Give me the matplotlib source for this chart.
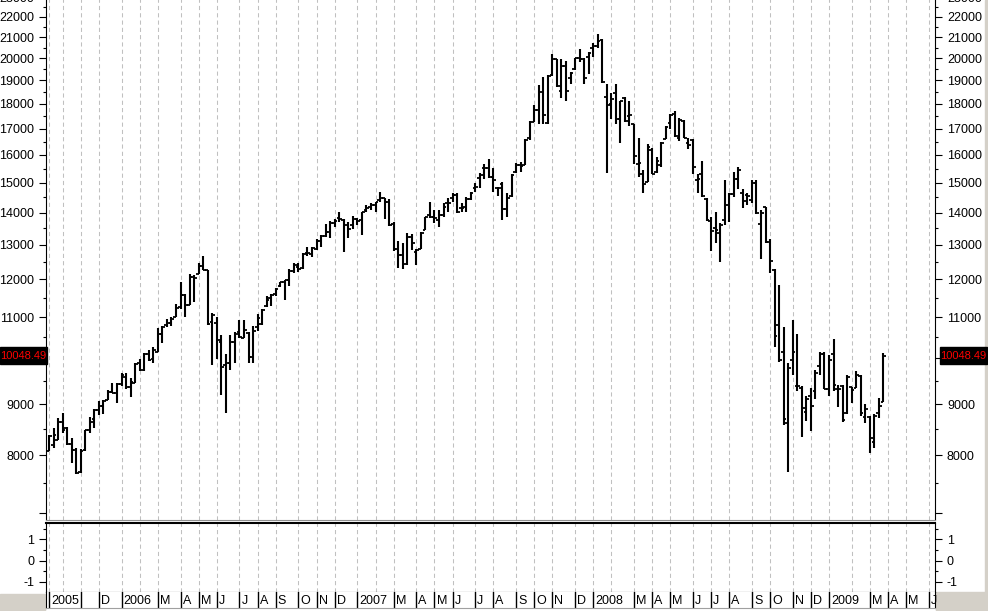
import numpy as np
import pandas as pd
import matplotlib
matplotlib.use('Agg')
import matplotlib.pyplot as plt
from matplotlib.patches import Rectangle
from matplotlib.ticker import FixedLocator, NullFormatter

# weekly bars, first week ending 2005-09-16
start_week = '2005-09-16'

opens = [
    8079, 8185, 8280, 8637, 8506, 8204, 8091, 7695, 8085, 8473,
    8684, 8873, 8955, 9085, 9260, 9233, 9423, 9585, 9364, 9452,
    9883, 9731, 10099, 9975, 10153, 10591, 10802, 10843, 11008, 11250,
    11580, 11310, 12080, 12155, 12387, 12261, 10884, 10843, 10389, 9845,
    9883, 10389, 10632, 10472, 10607, 10037, 10761, 10827, 11280, 11507,
    11616, 11813, 11934, 11980, 12241, 12355, 12308, 12741, 12721, 12860,
    13120, 13262, 13394, 13675, 13818, 13765, 13607, 13607, 13797, 13765,
    14087, 14196, 14250, 14415, 14470, 14360, 13628, 12872, 12696, 12439,
    13246, 12794, 12872, 13451, 13925, 13872, 13765, 13925, 14305, 14470,
    14584, 14141, 14196, 14448, 14832, 15158, 15510, 15510, 15215, 14832,
    14946, 14119, 14561, 15391, 15630, 15630, 16622, 17275, 17747, 18514,
    17208, 19241, 19965, 18557, 19659, 19119, 19506, 19996, 19965, 20073,
    20488, 20583, 20861, 18271, 17995, 18474, 17370, 18232, 17504, 17184,
    15666, 15307, 15041, 16183, 15392, 15629, 16586, 17210, 17585, 16624,
    17316, 16432, 16560, 15098, 15307, 14439, 13744, 13503, 13347, 13766,
    14250, 14618, 15122, 14662, 14584, 14417, 14983, 13640, 14175, 13096,
    12265, 10803, 10156, 8608, 9963, 9383, 9332, 8843, 9167, 9283,
    9825, 10103, 9310, 10103, 9310, 9383, 8810, 9353, 9332, 9602,
    8740, 8740, 8251, 8810, 9050,
]
highs = [
    8376, 8506, 8704, 8819, 8539, 8312, 8122, 8103, 8473, 8724,
    8893, 9067, 9081, 9294, 9437, 9437, 9659, 9674, 9548, 9883,
    9983, 10130, 10192, 10271, 10720, 10778, 10941, 10992, 11350, 11930,
    11600, 12150, 12130, 12450, 12660, 12277, 11110, 10992, 10550, 10099,
    10550, 10632, 10925, 10925, 10632, 10778, 11076, 11220, 11554, 11616,
    11777, 11934, 11998, 12280, 12469, 12469, 12741, 12939, 12939, 13160,
    13292, 13654, 13737, 13811, 14012, 13786, 13712, 13904, 13818, 14032,
    14250, 14305, 14360, 14674, 14493, 14448, 13691, 13113, 13043, 13348,
    13317, 12863, 13379, 13872, 14338, 14087, 14087, 14305, 14470, 14640,
    14640, 14305, 14527, 14674, 14984, 15332, 15654, 15848, 15534, 14866,
    15015, 14640, 15297, 15715, 15727, 16597, 17301, 17950, 18800, 19167,
    19241, 20182, 19965, 19965, 19873, 19356, 20027, 20430, 19996, 20306,
    20698, 21132, 20909, 18845, 18474, 18847, 18134, 18275, 18120, 17184,
    16648, 15451, 16406, 16245, 15935, 16497, 17105, 17585, 17720, 17410,
    17342, 16624, 16598, 15307, 15777, 14473, 13851, 14033, 13680, 15098,
    14641, 15392, 15570, 14776, 14641, 15098, 15098, 14088, 14197, 13166,
    12284, 11846, 10762, 9884, 10929, 10578, 9383, 9167, 9332, 9735,
    10156, 10156, 10079, 10450, 9404, 9404, 9624, 9368, 9720, 9624,
    9001, 8755, 8796, 9118, 10134,
]
lows = [
    8079, 8122, 8280, 8421, 8185, 7845, 7665, 7677, 8072, 8421,
    8519, 8771, 8785, 9081, 9233, 9025, 9379, 9328, 9152, 9437,
    9716, 9716, 9936, 9898, 10153, 10367, 10745, 10778, 10992, 11200,
    11010, 11300, 11380, 12139, 12261, 10802, 9845, 9997, 9187, 8805,
    9746, 9898, 10472, 10472, 9883, 9883, 10657, 10802, 11263, 11280,
    11545, 11795, 11456, 11813, 12168, 12205, 12280, 12660, 12641, 12840,
    12939, 13242, 13191, 13547, 13712, 12794, 13195, 13482, 13607, 13300,
    14032, 14087, 14032, 14360, 13797, 13576, 12813, 12325, 12306, 12420,
    12843, 12420, 12872, 13451, 13840, 13660, 13555, 13872, 14032, 14360,
    13979, 14032, 14032, 14415, 14674, 14832, 15135, 15158, 14696, 14561,
    13765, 13872, 14527, 15332, 15391, 15630, 16559, 17248, 17168, 17168,
    17168, 19211, 18700, 18226, 18128, 18845, 19461, 19813, 18845, 19268,
    20073, 20488, 18890, 15332, 17370, 17184, 16458, 17276, 17118, 15666,
    15216, 14662, 15041, 15307, 15333, 15570, 16586, 16973, 16661, 16535,
    16624, 16206, 15307, 14641, 14526, 13744, 12824, 13044, 12504, 13608,
    13715, 14526, 14776, 14142, 14250, 14306, 13958, 12573, 13066, 12171,
    10275, 9925, 8574, 7699, 9624, 9283, 8335, 8661, 8463, 9097,
    9624, 9310, 9167, 9283, 8945, 8640, 8796, 9029, 9332, 8755,
    8621, 8044, 8125, 8708, 9050,
]
closes = [
    8360, 8376, 8637, 8473, 8204, 8091, 7677, 8079, 8473, 8637,
    8873, 8955, 9067, 9258, 9240, 9423, 9622, 9364, 9474, 9868,
    9731, 10099, 9959, 10192, 10591, 10761, 10860, 10941, 11246, 11580,
    11310, 12080, 12050, 12387, 12277, 10827, 11050, 10430, 9807, 9883,
    10389, 10591, 10510, 10673, 10037, 10657, 10967, 11194, 11456, 11571,
    11741, 11925, 11980, 12241, 12402, 12280, 12721, 12741, 12889, 13120,
    13262, 13394, 13675, 13737, 13800, 13607, 13482, 13797, 13740, 14012,
    14163, 14250, 14350, 14470, 14338, 13607, 12872, 12696, 12439, 13246,
    13043, 12843, 13348, 13872, 13872, 13818, 13925, 14196, 14305, 14584,
    14032, 14163, 14448, 14640, 14866, 15273, 15510, 15215, 15100, 14832,
    14119, 14470, 15273, 15630, 15606, 16559, 17275, 17747, 18514, 17543,
    19211, 19965, 18772, 19659, 18557, 19311, 19996, 19965, 19119, 20228,
    20583, 20813, 18919, 17941, 18189, 17370, 18120, 17316, 17545, 15958,
    15715, 14959, 16306, 15307, 15777, 16458, 17077, 17545, 16714, 17342,
    16624, 16368, 15570, 15122, 14550, 13766, 13431, 13449, 13608, 14250,
    14618, 15122, 15451, 14396, 14550, 14983, 14000, 14000, 13096, 12532,
    10531, 9963, 8687, 9774, 10156, 9383, 8911, 9097, 8958, 9661,
    10103, 9310, 9963, 9404, 9310, 8674, 9588, 9297, 9624, 8822,
    8890, 8313, 8755, 8958, 10048.49,
]
last_label = '10048.49'

month_letters = 'JFMAMJJASOND'
ytick_major = list(range(7000, 23001, 1000))
ytick_minor = list(range(7500, 23000, 1000))
hidden_labels = [7000, 10000]
sub_major = [-1, 0, 1]
sub_minor = [-1.5, -0.5, 0.5, 1.5]

plt.rcParams['font.family'] = ['Liberation Sans', 'DejaVu Sans']
FS = 9

W, H = 988, 611
fig = plt.figure(figsize=(W / 100, H / 100), dpi=100)


def rect(x0, y0, x1, y1):
    return [x0 / W, 1 - y1 / H, (x1 - x0) / W, (y1 - y0) / H]


ax = fig.add_axes(rect(46, -4, 935, 520))
ax2 = fig.add_axes(rect(46, 522.5, 935, 592))
axd = fig.add_axes(rect(46, 592, 935, 608))

n = len(closes)
dates = pd.date_range(start_week, periods=196, freq='W-FRI')
month_start = [i for i in range(1, len(dates)) if dates[i].month != dates[i - 1].month]
grid_idx = [0] + month_start
xlim = (-0.66, 195.37)

grid_style = dict(color='#c0c0c0', lw=0.75, ls=(0, (4, 3)), zorder=0)
for a in (ax, ax2):
    for g in grid_idx:
        a.axvline(g, **grid_style)
    a.set_xlim(*xlim)
    a.set_xticks([])
    a.spines['top'].set_visible(False)
    for s in a.spines.values():
        s.set_color('black')
ax.spines['bottom'].set_color('#909090')
ax.spines['bottom'].set_linewidth(0.8)

# OHLC bars
x = np.arange(n)
ax.vlines(x, lows, highs, color='black', lw=1.5)
ax.hlines(opens, x - 0.6, x, color='black', lw=1.3)
ax.hlines(closes, x, x + 0.6, color='black', lw=1.3)

ax.set_yscale('log')
ax.set_ylim(6885, 23091)
ax.yaxis.set_major_locator(FixedLocator(ytick_major))
ax.yaxis.set_minor_locator(FixedLocator(ytick_minor))
ax.set_yticklabels(['' if v in hidden_labels else str(v) for v in ytick_major])
ax.yaxis.set_minor_formatter(NullFormatter())

ax2.set_ylim(-1.49, 1.8)
ax2.yaxis.set_major_locator(FixedLocator(sub_major))
ax2.yaxis.set_minor_locator(FixedLocator(sub_minor))
ax2.set_yticklabels([str(v) for v in sub_major])
ax2.spines['top'].set_visible(True)
ax2.spines['top'].set_linewidth(1.5)

for a in (ax, ax2):
    a.tick_params(axis='y', which='both', left=True, right=True,
                  labelleft=True, labelright=True, direction='out',
                  labelsize=FS, colors='black')
    a.tick_params(axis='y', which='major', length=5, width=0.8, pad=3.6)
    a.tick_params(axis='y', which='minor', length=2.4, width=0.8)

# date strip
axd.set_xlim(*xlim)
axd.set_ylim(0, 1)
axd.set_xticks([])
axd.set_yticks([])
for s in axd.spines.values():
    s.set_color('black')
axd.spines['top'].set_visible(False)
axd.spines['bottom'].set_color('#a0a0a0')

strip = [(0, str(dates[0].year))]
for i in month_start:
    d = dates[i]
    if d.month == 2 or (d.year == 2005 and d.month == 10):
        continue
    if d.year == 2005 and d.month == 11:
        lab = ''
    elif d.month == 1:
        lab = str(d.year)
    else:
        lab = month_letters[d.month - 1]
    strip.append((i, lab))

for i, lab in strip:
    axd.axvline(i, color='black', lw=1)
    axd.text(i + 0.45, 0.45, lab, fontsize=FS, va='center', ha='left')

# last value boxes
for x0 in (0, 940):
    fig.add_artist(Rectangle((x0 / W, 1 - 364 / H), 47 / W, 17 / H,
                             transform=fig.transFigure, color='black', zorder=5))
    fig.text((x0 + 23.5) / W, 1 - 356 / H, last_label, color='#ff0000', fontsize=8,
             ha='center', va='center', zorder=6)

# window-like grey corners
fig.add_artist(Rectangle((0, 0), 45 / W, 17 / H, transform=fig.transFigure,
                         color='#d4d0c8', zorder=0))
fig.add_artist(Rectangle((936 / W, 0), 52 / W, 19 / H, transform=fig.transFigure,
                         color='#d4d0c8', zorder=0))
fig.add_artist(Rectangle((985 / W, 0), 3 / W, 1, transform=fig.transFigure,
                         color='#d4d0c8', zorder=0))

fig.savefig('out.png', dpi=100)
